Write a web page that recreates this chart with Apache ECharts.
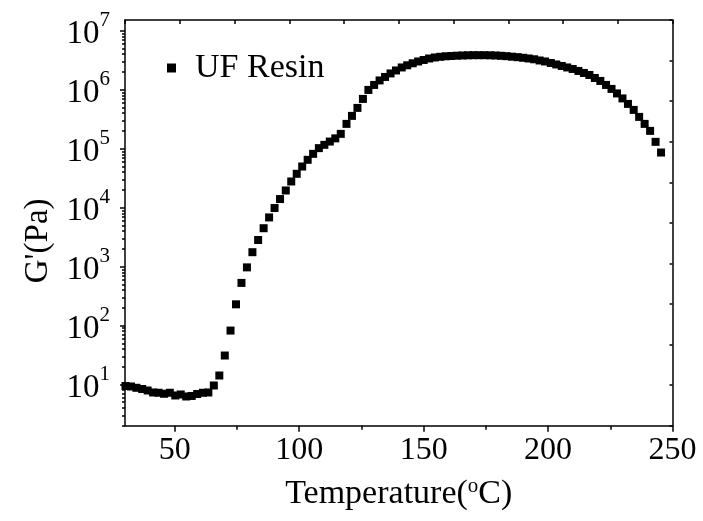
<!DOCTYPE html>
<html>
<head>
<meta charset="utf-8">
<script src="https://cdn.jsdelivr.net/npm/echarts@6/dist/echarts.min.js"></script>
<style>html,body{margin:0;padding:0;background:#fff}#c{width:703px;height:521px}</style>
</head>
<body>
<div id="c"></div>
<script>
const temperature = [30.2,32.4,34.6,36.9,39.1,41.3,43.5,45.7,48.0,50.2,52.4,54.6,56.8,59.0,61.3,63.5,65.7,67.9,70.1,72.4,74.6,76.8,79.0,81.2,83.5,85.7,87.9,90.1,92.3,94.6,96.8,99.0,101.2,103.4,105.6,107.9,110.1,112.3,114.5,116.7,119.0,121.2,123.4,125.6,127.8,130.1,132.3,134.5,136.7,138.9,141.2,143.4,145.6,147.8,150.0,152.2,154.5,156.7,158.9,161.1,163.3,165.6,167.8,170.0,172.2,174.4,176.7,178.9,181.1,183.3,185.5,187.8,190.0,192.2,194.4,196.6,198.8,201.1,203.3,205.5,207.7,209.9,212.2,214.4,216.6,218.8,221.0,223.3,225.5,227.7,229.9,232.1,234.4,236.6,238.8,241.0,243.2,245.4];
const storageModulus = [9.43,9.25,8.79,8.39,7.91,7.32,7.24,6.96,7.24,6.51,6.77,6.26,6.39,6.90,7.24,7.32,9.62,14.2,31.0,82.1,229,528,969,1753,2822,4471,6813,9826,13960,19520,27740,37440,49760,64630,81660,101970,116000,131900,149400,178100,263000,359400,491000,697300,990400,1204000,1435000,1644000,1885000,2118000,2382000,2594000,2805000,3009000,3191000,3383000,3518000,3614000,3686000,3729000,3773000,3802000,3832000,3847000,3847000,3847000,3832000,3802000,3758000,3700000,3628000,3558000,3476000,3383000,3279000,3129000,3009000,2838000,2677000,2525000,2382000,2246000,2078000,1921000,1777000,1581000,1407000,1204000,1030000,864000,711000,573800,454000,345600,263000,200200,130400,85910];
const seriesName = 'UF Resin';
const xTickValues = [50, 100, 150, 200, 250];
const xMinorTickValues = [75, 125, 175, 225];
const yTickValues = [10, 100, 1000, 10000, 100000, 1000000, 10000000];
const yMinorTickValues = [2,3,4,5,6,7,8,9,20,30,40,50,60,70,80,90,200,300,400,500,600,700,800,900,2000,3000,4000,5000,6000,7000,8000,9000,20000,30000,40000,50000,60000,70000,80000,90000,200000,300000,400000,500000,600000,700000,800000,900000,2000000,3000000,4000000,5000000,6000000,7000000,8000000,9000000];

const FONT = 'Liberation Serif';
const chart = echarts.init(document.getElementById('c'), null, {renderer: 'canvas'});
const lineStyle = {color: '#000', width: 1.5};
const data = temperature.map((t, i) => [t, storageModulus[i]]);

chart.setOption({
  animation: false,
  backgroundColor: '#fff',
  grid: {left: 125, right: 30.5, top: 20, bottom: 95.3, containLabel: false},
  legend: {
    left: 162, top: 46,
    icon: 'rect', itemWidth: 9, itemHeight: 9,
    textStyle: {fontFamily: FONT, fontSize: 34, color: '#000', padding: [0, 0, 0, 14]},
    data: [seriesName]
  },
  xAxis: [
    {
      type: 'value', position: 'bottom', min: 30, max: 250,
      axisLine: {show: true, onZero: false, lineStyle},
      axisTick: {show: true, inside: false, length: 6, lineStyle, customValues: xTickValues},
      axisLabel: {show: true, customValues: xTickValues, fontFamily: FONT, fontSize: 32, color: '#000', margin: 9},
      splitLine: {show: false},
      name: 'Temperature({s|o}C)',
      nameLocation: 'middle', nameGap: 50,
      nameTextStyle: {fontFamily: FONT, fontSize: 34, color: '#000',
        rich: {s: {fontFamily: FONT, fontSize: 21, verticalAlign: 'top', padding: [0, 0, 15, 0]}}}
    },
    {
      type: 'value', position: 'bottom', min: 30, max: 250,
      axisLine: {show: false, onZero: false},
      axisTick: {show: true, inside: false, length: 4, lineStyle, customValues: xMinorTickValues},
      axisLabel: {show: false},
      splitLine: {show: false}
    },
    {
      type: 'value', position: 'top', min: 0, max: 10, interval: 1,
      axisLine: {show: true, onZero: false, lineStyle},
      axisTick: {show: true, inside: true, length: 4, lineStyle},
      axisLabel: {show: false},
      splitLine: {show: false}
    }
  ],
  yAxis: [
    {
      type: 'log', position: 'left', min: 2, max: 1.52e7,
      axisLine: {show: true, onZero: false, lineStyle},
      axisTick: {show: true, inside: false, length: 5, lineStyle, customValues: yTickValues},
      axisLabel: {
        show: true, customValues: yTickValues, margin: 15,
        formatter: v => '{b|10}{s|' + Math.round(Math.log10(v)) + '}',
        rich: {
          b: {fontFamily: FONT, fontSize: 33, color: '#000', padding: [8, 0, 0, 0]},
          s: {fontFamily: FONT, fontSize: 21, color: '#000', verticalAlign: 'top', padding: [0, 0, 14, 0]}
        }
      },
      splitLine: {show: false},
      name: "G'(Pa)",
      nameLocation: 'middle', nameGap: 70,
      nameTextStyle: {fontFamily: FONT, fontSize: 33, color: '#000', padding: [0, 36, 0, 0]}
    },
    {
      type: 'log', position: 'left', min: 2, max: 1.52e7,
      axisLine: {show: false, onZero: false},
      axisTick: {show: true, inside: false, length: 3, lineStyle, customValues: yMinorTickValues},
      axisLabel: {show: false},
      splitLine: {show: false}
    },
    {
      type: 'value', position: 'right', min: 0, max: 10, interval: 1,
      axisLine: {show: true, onZero: false, lineStyle},
      axisTick: {show: true, inside: true, length: 3, lineStyle},
      axisLabel: {show: false},
      splitLine: {show: false}
    }
  ],
  series: [{
    name: seriesName,
    type: 'scatter',
    xAxisIndex: 0, yAxisIndex: 0,
    symbol: 'rect', symbolSize: 8,
    itemStyle: {color: '#000', opacity: 1},
    clip: false,
    data: data
  }]
});
</script>
</body>
</html>
